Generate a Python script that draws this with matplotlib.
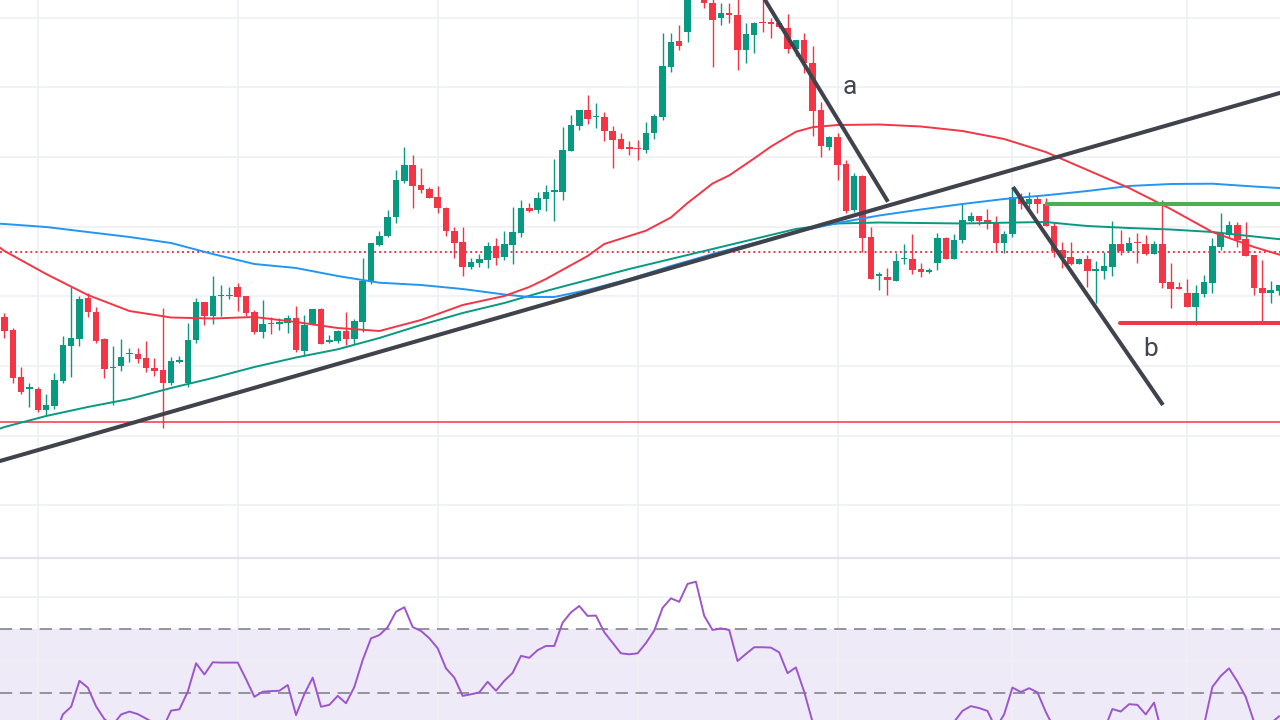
import matplotlib
matplotlib.use("Agg")
import matplotlib.pyplot as plt
import numpy as np

# ---------------- data (price units, candle index from -1) ----------------
opens = [317, 283.3, 270, 222.7, 210.7, 211, 190, 194, 219, 254.3, 261, 301.7, 288.3, 261, 231.7, 234.3, 245.7, 246, 241.7, 232.3,
         230, 216.7, 238.3, 217.3, 260, 297.7, 284.3, 304, 304, 312.7, 304, 288.3, 268.3, 277.3, 276.7, 276.7, 281.7, 249.3, 275, 290.7,
         258.3, 259, 269, 260.7, 278.3, 318.3, 355, 364, 382.7, 419.3, 435, 415, 410.7, 402.7, 392.3, 369.3, 357.7, 333.3, 337.3, 340,
         354, 343.3, 355, 367.3, 392.3, 390, 401, 408.3, 408.3, 449.3, 474.3, 490, 482.7, 483.3, 469.3, 461, 452.7, 452, 450, 467.3,
         483.3, 533.3, 559, 568.3, 605, 610, 597.3, 581.7, 586.7, 585, 550, 565, 578.3, 577.7, 577.3, 571.7, 551, 560, 537.3, 490,
         453.3, 463.3, 436, 390, 424, 363.3, 324.3, 322.7, 319.3, 340.7, 341, 331, 328.3, 337.3, 362.3, 340.7, 360, 379.3, 384, 380,
         376.7, 356.7, 365.7, 402.7, 396, 400.7, 396, 374.3, 350, 343.3, 336, 341, 329.3, 329.3, 333.3, 356, 349.3, 358.3, 356, 346,
         356, 317.7, 312.7, 306.7, 293.3, 306, 317.3, 353.3, 365, 375, 361, 345, 312.3, 306.7, 309.3]
highs = [320, 286.7, 272, 232.7, 216.7, 213.3, 205.7, 226.7, 264, 313.3, 304, 306.7, 292.7, 261.7, 254, 261, 251.7, 251.7, 259, 241.7,
         291.7, 242.7, 244, 276.7, 301.7, 298.3, 324, 315, 313.3, 317.3, 304, 290, 300, 283.3, 282.3, 285, 294, 285, 290.7, 292.3,
         265, 270, 288.3, 280.7, 341.7, 357.3, 369, 390, 430, 453.3, 445, 431.7, 413.3, 414, 393.3, 373.3, 372.7, 341.7, 346, 358.3,
         361.7, 369, 393.3, 400, 396.7, 408.3, 415, 440.7, 473.3, 485, 490, 505, 497.3, 488.3, 474, 466.7, 459, 460, 478.3, 485.7,
         566.7, 566.7, 575, 615, 640, 620, 605, 596.7, 596.7, 605, 576.7, 577.7, 605, 581.7, 577.3, 586, 560, 566.7, 554, 498.3,
         464, 466.7, 440, 427.3, 425, 373.3, 328.3, 331.7, 347.3, 356, 366, 336.7, 331.7, 367.3, 363.3, 365.7, 396.7, 388.3, 384, 391,
         384, 369, 412.7, 406.7, 408.3, 405, 401.7, 377.7, 358.3, 358.3, 342.3, 345, 339, 348.3, 379, 370, 363.3, 367.3, 365, 359,
         400, 337.3, 318.3, 321, 315, 325, 361.7, 387.3, 379, 378.3, 378.3, 345, 340, 319, 315]
lows = [282, 261.7, 216.7, 205.7, 193.3, 188.3, 184.3, 190.7, 216.7, 223.3, 254.3, 283.3, 257.3, 221.7, 195, 229.3, 238.3, 236.7, 228.3, 224,
        171.7, 215, 237.3, 212.7, 257.3, 275, 275.7, 284.3, 300.7, 289.3, 284.3, 266, 262.3, 266, 270, 266.7, 248.3, 245, 275, 256,
        256.7, 256.7, 255, 256, 268.3, 316, 354, 362.7, 377.3, 417.3, 392.3, 406.7, 401.7, 387.3, 364, 341.7, 324.3, 330.7, 333.3, 331.7,
        335, 340, 336, 363.3, 388.3, 387.3, 389.3, 379.3, 400, 449.3, 470, 475.7, 471.7, 459, 432.3, 451, 445, 440, 447.3, 461,
        480, 528.3, 550, 558.3, 602, 592, 533.3, 575, 577.3, 530, 536.7, 546.7, 568.3, 561.7, 571.7, 547.3, 544.3, 526.7, 464, 443.3,
        450, 420, 386.7, 388.3, 348.3, 321, 310, 305, 319.3, 336, 325.7, 323.3, 327.3, 330, 340.7, 340.7, 356.7, 378.3, 375, 371,
        349, 346.7, 362.7, 390.7, 391.7, 386.7, 374.3, 342.7, 331.7, 335, 336, 313.3, 297.3, 320.7, 324, 345, 349.3, 337.3, 345, 346,
        312.3, 292.3, 311, 293.3, 275, 302.7, 306.7, 350, 363.3, 353.3, 344.3, 305, 278.3, 297.3, 305]
closes = [285, 269, 222.3, 208.3, 212.7, 190, 195, 220, 255, 261.7, 300.7, 288.3, 259.3, 231, 233.3, 242.7, 247.3, 240.7, 232.3, 229.3,
          216.7, 239, 240, 260, 297.7, 284.3, 304, 305.3, 305, 303.3, 287.3, 268.3, 276, 276, 277.7, 281.7, 250, 275, 290.7, 256,
          260, 269, 260.7, 279, 319, 356.7, 364, 382.7, 420, 435, 414.3, 410, 402.3, 392.3, 369.3, 357.3, 333.3, 337.7, 340.7, 354,
          342.3, 355.7, 367.7, 392.3, 389.3, 402.3, 408.3, 410, 450, 475, 490, 480.7, 484, 469.3, 460, 451, 451, 450.7, 467.3, 484,
          534.3, 558.3, 554.3, 608, 630, 596.7, 580, 586.7, 585, 550, 566, 576.7, 576.7, 576, 572.7, 551, 560, 536.7, 489.3, 454.3,
          463.3, 435, 389.3, 424, 362.3, 321, 326, 320, 339, 342.3, 330, 327.7, 330, 362.3, 340.7, 360, 380, 384, 379.3, 375.7,
          356.7, 365.7, 402.7, 395.7, 400.7, 395.7, 374.3, 349.3, 342.3, 336, 341, 329.3, 330.7, 334, 356, 349.3, 357.3, 356.7, 346, 356,
          317.3, 311, 311, 293.3, 306.7, 318.3, 354, 367.3, 375, 360, 344.3, 311.7, 306.7, 310, 315]
candle_idx = list(range(-1, -1 + len(opens)))

rsi = [38, 37, 33, 31, 32, 29, 30, 36, 43.3, 45.7, 53.8, 51.7, 45.8, 41.8, 40, 43.3, 44.2, 43.4, 42.0, 40.5,
       39, 44.5, 44.9, 50.4, 59.3, 55.8, 59.6, 59.5, 59.5, 59.5, 54.3, 48.8, 50.4, 50.6, 50.7, 52.5, 43.1, 49.7, 54.8, 45.7,
       46.3, 49.1, 46.8, 51.9, 60.3, 67.1, 68.1, 70.6, 75.4, 76.8, 70.6, 69.4, 67.1, 64.0, 57.7, 54.8, 49.1, 49.6, 50.2, 53.5,
       50.7, 53.8, 56.3, 61.6, 61.0, 63.4, 64.7, 64.7, 72.0, 75.2, 77.2, 74.1, 74.2, 69.0, 65.7, 62.4, 62.1, 62.4, 65.6, 69.5,
       76.6, 79.6, 78.5, 84.1, 84.8, 74.1, 69.7, 70.2, 69.7, 60.0, 62.2, 64.3, 64.3, 64.2, 62.7, 56.2, 58.0, 50.4, 41.0, 36.9,
       37.5, 33.8, 27.5, 32.2, 25.9, 21.3, 22.2, 21, 27.5, 29, 26.6, 26, 26.6, 33.8, 36.9, 41, 44.4, 45.9, 45.3, 44.4,
       39, 43.3, 51.7, 50.3, 51.5, 50.2, 44.1, 39, 37.8, 35.9, 36.9, 34.7, 35.9, 38.4, 45, 44.2, 46.5, 46.3, 43.3, 47.0,
       36.9, 34.7, 34.4, 32.2, 36.9, 40.0, 51.9, 55.3, 57.7, 53.6, 48.8, 41, 36.9, 40.5, 42.7]

ma_red_idx = [-1, 0, 5, 10, 15, 20, 25, 30, 35, 40, 45, 50, 55, 60, 63, 65, 70, 72, 75, 77, 80, 82, 85, 87, 90, 92, 95, 97,
              100, 105, 110, 115, 120, 125, 130, 135, 140, 145, 150, 154]
ma_red = [355, 349, 326, 305, 289, 282.5, 281.5, 283, 278, 272, 269, 280, 295, 304, 313, 321, 344, 356, 364, 369.3, 382.5, 397,
          416.5, 424.6, 441.6, 453.4, 468.2, 472.8, 475, 475.5, 473.5, 469, 461, 448, 430, 412, 391, 368, 353, 343]
ma_blue_idx = [-1, 0, 5, 10, 15, 20, 25, 30, 35, 40, 45, 50, 55, 60, 63, 66, 70, 75, 80, 85, 90, 95, 100, 105, 110, 115,
               120, 125, 130, 135, 140, 145, 150, 154]
ma_blue = [376.5, 376, 373, 368, 363, 357, 346, 336, 332, 324, 317.3, 315, 311, 305.5, 303, 303, 310, 321, 334, 346, 357, 368,
           377, 384.5, 390.5, 396, 401, 404.7, 409, 414, 416, 416.3, 413.5, 411.5]
ma_green_idx = [-1, 0, 5, 10, 15, 20, 25, 30, 35, 40, 45, 50, 55, 60, 65, 70, 75, 80, 85, 90, 95, 100, 105, 110, 115, 120,
                125, 128, 130, 135, 140, 145, 150, 154]
ma_green = [170, 173, 184, 193, 201, 212, 222, 233, 242.5, 250.7, 262, 275, 287, 297, 309, 320, 331, 341, 351, 361, 371, 376.5,
            377.5, 377, 376.5, 377.3, 378, 375.5, 374, 372, 370.5, 368, 363.5, 360]

# drawings (index, price)
trend_long = ([-1, 154], [137.9, 509.2])
trend_a = ([90, 106.06], [617.8, 398.3])
trend_b = ([121.07, 139.07], [413, 195])
level_green = ([124.9, 154], 396.3)
level_red_thick = ([133.9, 154], 277.3)
level_red_thin = 178.3
last_price = 348.3
labels = [("a", 101.5, 512.5), ("b", 137.6, 251)]

price_grid = [582.5, 512.7, 443, 373.3, 304, 234, 164.5, 95]
time_grid = [4, 28, 52, 76, 100, 121, 142]
rsi_grid = [80, 60]
rsi_bands = [70, 50]

UP = "#089981"
DN = "#f23645"
GRID = "#eef0f3"

fig = plt.figure(figsize=(12.8, 7.2), dpi=100)
fig.patch.set_facecolor("white")
ax = fig.add_axes([0, 163 / 720, 1, 557 / 720])
ax2 = fig.add_axes([0, 0, 1, 162 / 720])
for a in (ax, ax2):
    a.set_facecolor("white")
    for s in a.spines.values():
        s.set_visible(False)
    a.set_xticks([])
    a.set_yticks([])
    a.set_xlim(-0.54, 153.12)

ax.set_ylim(43, 600)
for g in price_grid:
    ax.axhline(g, color=GRID, lw=1.2, zorder=0)
for t in time_grid:
    ax.axvline(t, color=GRID, lw=1.2, zorder=0)
    ax2.axvline(t, color=GRID, lw=1.2, zorder=0.5)

ax.axhline(last_price, color=DN, lw=1.4, ls=(0, (1, 1.6)), zorder=1)
ax.axhline(level_red_thin, color=DN, lw=1.1, zorder=1)

o = np.array(opens); h = np.array(highs); l = np.array(lows); c = np.array(closes)
x = np.array(candle_idx)
cols = np.where(c >= o, UP, DN)
ax.vlines(x, l, h, colors=cols, lw=1.0, zorder=2)
body_h = np.maximum(np.abs(c - o), 1.6)
body_b = np.where(np.abs(c - o) < 1.6, (o + c) / 2 - 0.8, np.minimum(o, c))
ax.bar(x, body_h, bottom=body_b, width=0.78, color=cols, linewidth=0, zorder=3)

ax.plot(ma_green_idx, ma_green, color=UP, lw=1.4, zorder=4, solid_capstyle="round")
ax.plot(ma_blue_idx, ma_blue, color="#2196f3", lw=1.4, zorder=4, solid_capstyle="round")
ax.plot(ma_red_idx, ma_red, color=DN, lw=1.4, zorder=4, solid_capstyle="round")

TL = "#40424c"
ax.plot(*trend_long, color=TL, lw=2.9, zorder=5, solid_capstyle="butt")
ax.plot(*trend_a, color=TL, lw=2.9, zorder=5, solid_capstyle="butt")
ax.plot(*trend_b, color=TL, lw=2.9, zorder=5, solid_capstyle="butt")
ax.plot(level_green[0], [level_green[1]] * 2, color="#4caf50", lw=2.9, zorder=5, solid_capstyle="butt")
ax.plot(level_red_thick[0], [level_red_thick[1]] * 2, color=DN, lw=2.9, zorder=5, solid_capstyle="round")
for txt, tx, ty in labels:
    ax.text(tx, ty, txt, fontsize=19, color="#434651", ha="center", va="center", family="Roboto", zorder=6)

# RSI pane
ax2.set_ylim(41.56, 92.2)
ax2.axhspan(30, 70, color="#7e57c2", alpha=0.12, lw=0, zorder=0)
for g in rsi_grid:
    ax2.axhline(g, color=GRID, lw=1.2, zorder=0.5)
for b in rsi_bands:
    ax2.axhline(b, color="#787b86", lw=1.1, ls=(0, (8, 5)), zorder=1)
ax2.plot(x, rsi, color="#9c56cc", lw=1.4, zorder=3)

fig.add_artist(plt.Line2D([0, 1], [162.3 / 720, 162.3 / 720], transform=fig.transFigure, color="#e0e3eb", lw=1.5))

fig.savefig("out.png", dpi=100, facecolor="white")
